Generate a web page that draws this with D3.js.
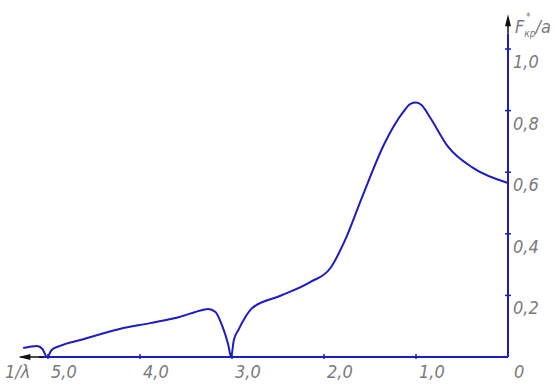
<!DOCTYPE html>
<html>
<head>
<meta charset="utf-8">
<script src="https://cdn.jsdelivr.net/npm/d3@7"></script>
<style>
  body { margin: 0; background: #fff; }
  svg text { font-family: "Liberation Sans Narrow", "DejaVu Sans Condensed", sans-serif; fill: #7a7a7a; }
</style>
</head>
<body>
<svg id="chart" width="559" height="385"></svg>
<script>
// 1/lambda values (left to right)
const invLambda = [5.27, 5.12, 5.06, 5.01, 4.96, 4.87, 4.65, 4.22, 3.89, 3.57, 3.33, 3.26, 3.18, 3.11, 3.04, 3.01,
                   2.98, 2.93, 2.78, 2.48, 2.15, 1.93, 1.77, 1.59, 1.34, 1.14, 1.06, 1.0, 0.94, 0.85, 0.65, 0.38, 0];
// F*kp / a
const force = [0.029, 0.036, 0.026, 0.0, 0.023, 0.036, 0.055, 0.091, 0.11, 0.13, 0.152, 0.156, 0.146, 0.104, 0.039, 0.0,
               0.055, 0.088, 0.159, 0.198, 0.243, 0.289, 0.38, 0.516, 0.695, 0.795, 0.822, 0.826, 0.818, 0.779, 0.682, 0.614, 0.565];

const xTicks = [5, 4, 3, 2, 1, 0];
const xTickLabels = ["5,0", "4,0", "3,0", "2,0", "1,0", "0"];
const yTicks = [0.2, 0.4, 0.6, 0.8, 1.0];
const yTickLabels = ["0,2", "0,4", "0,6", "0,8", "1,0"];

const blue = "#1c1cc4";
const svg = d3.select("#chart");

// reversed x axis: 0 on the right
const x = d3.scaleLinear().domain([0, 5]).range([508, 48]);
const y = d3.scaleLinear().domain([0, 1]).range([357, 49]);

// x axis line with arrow to the left
svg.append("line")
    .attr("x1", x(5.1)).attr("x2", x(0))
    .attr("y1", y(0)).attr("y2", y(0))
    .attr("stroke", blue).attr("stroke-width", 2);
svg.append("line")
    .attr("x1", x(5.3)).attr("x2", x(5.05))
    .attr("y1", y(0)).attr("y2", y(0))
    .attr("stroke", "#111").attr("stroke-width", 1.5);
svg.append("path")
    .attr("d", `M${x(5.3) - 2},${y(0)} l12,-3 l0,6 z`)
    .attr("fill", "#111");

// y axis line with arrow up
svg.append("line")
    .attr("x1", x(0)).attr("x2", x(0))
    .attr("y1", y(0)).attr("y2", y(1.05))
    .attr("stroke", blue).attr("stroke-width", 2);
svg.append("line")
    .attr("x1", x(0)).attr("x2", x(0))
    .attr("y1", y(1.05)).attr("y2", y(1.1))
    .attr("stroke", "#111").attr("stroke-width", 1.5);
svg.append("path")
    .attr("d", `M${x(0)},${y(1.1) - 4} l-3,12 l6,0 z`)
    .attr("fill", "#111");

// ticks
svg.selectAll(".xtick")
    .data(xTicks.filter(d => d > 0))
    .enter().append("line")
    .attr("x1", d => x(d)).attr("x2", d => x(d))
    .attr("y1", y(0) - 3).attr("y2", y(0) + 2)
    .attr("stroke", blue).attr("stroke-width", 1.5);

svg.selectAll(".ytick")
    .data(yTicks)
    .enter().append("line")
    .attr("x1", x(0) - 3).attr("x2", x(0) + 3)
    .attr("y1", d => y(d)).attr("y2", d => y(d))
    .attr("stroke", blue).attr("stroke-width", 1.5);

// tick labels
svg.selectAll(".xlabel")
    .data(xTicks)
    .enter().append("text")
    .attr("x", d => x(d) + (d === 0 ? 6 : 3))
    .attr("y", y(0) + 21)
    .attr("font-size", 18)
    .attr("font-style", "italic")
    .text((d, i) => xTickLabels[i]);

svg.selectAll(".ylabel")
    .data(yTicks)
    .enter().append("text")
    .attr("x", x(0) + 5)
    .attr("y", d => y(d) + 19)
    .attr("font-size", 18)
    .attr("font-style", "italic")
    .text((d, i) => yTickLabels[i]);

// axis titles
svg.append("text")
    .attr("x", 5).attr("y", y(0) + 21)
    .attr("font-size", 18).attr("font-style", "italic")
    .text("1/λ");

const title = svg.append("text")
    .attr("x", x(0) + 7).attr("y", 33)
    .attr("font-size", 18).attr("font-style", "italic");
title.append("tspan").text("F");
title.append("tspan").attr("font-size", 10).attr("dy", 4).text("кр");
title.append("tspan").attr("font-size", 18).attr("dy", -4).text("/a");
svg.append("text")
    .attr("x", x(0) + 18).attr("y", 20)
    .attr("font-size", 10).attr("font-style", "italic")
    .text("*");

// curve
const points = invLambda.map((d, i) => [d, force[i]]);
const line = d3.line()
    .x(d => x(d[0]))
    .y(d => y(d[1]))
    .curve(d3.curveMonotoneX);

svg.append("path")
    .datum(points)
    .attr("d", line)
    .attr("fill", "none")
    .attr("stroke", blue)
    .attr("stroke-width", 2);
</script>
</body>
</html>
